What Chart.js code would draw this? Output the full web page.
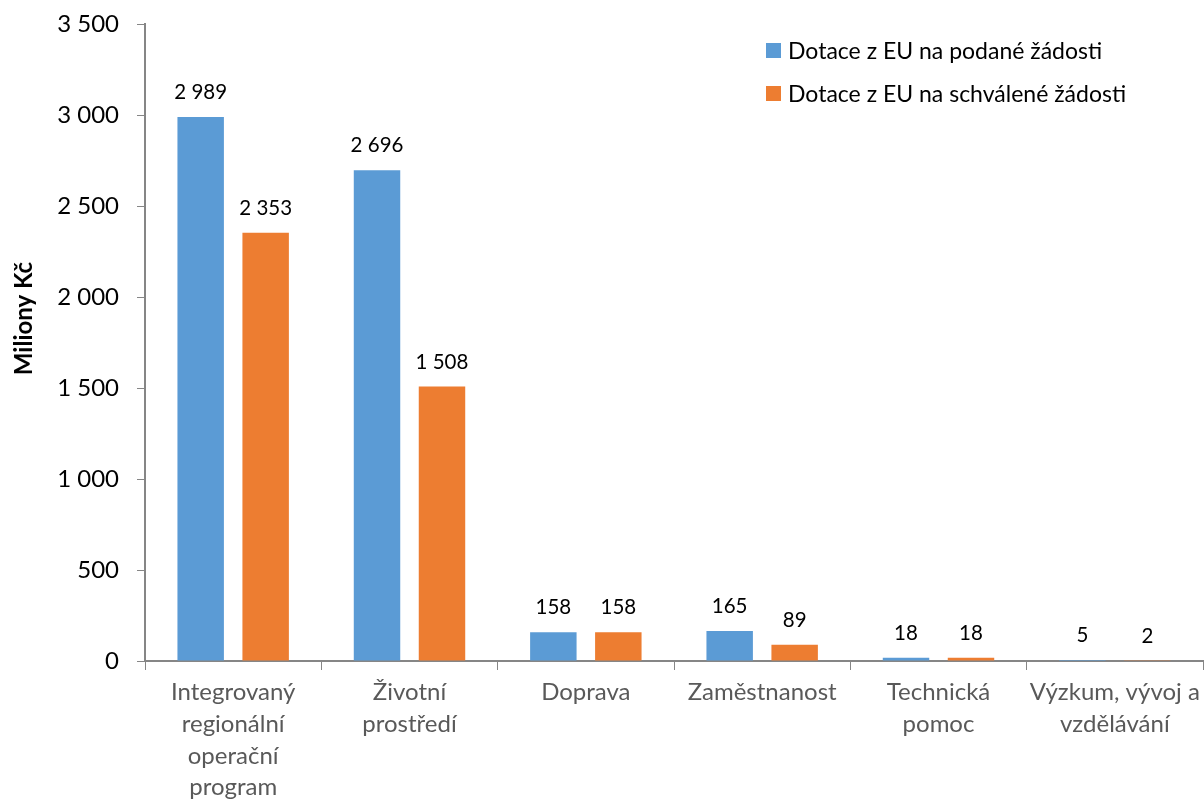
<!DOCTYPE html>
<html>
<head>
<meta charset="utf-8">
<script src="https://cdn.jsdelivr.net/npm/chart.js@4"></script>
<style>
  html, body { margin: 0; padding: 0; background: #fff; }
  #wrap { position: relative; width: 1204px; height: 805px; }
  #legend { position: absolute; left: 766px; top: 36px; font-family: Lato, sans-serif; font-size: 23px; color: #000; }
  .item { display: flex; align-items: center; height: 28px; margin-bottom: 15px; white-space: nowrap; }
  .sw { width: 15px; height: 15px; margin-right: 7px; }
</style>
</head>
<body>
<div id="wrap">
  <canvas id="c"></canvas>
  <div id="legend"></div>
</div>
<script>
const categories = [
  ["Integrovaný", "regionální", "operační", "program"],
  ["Životní", "prostředí"],
  "Doprava",
  "Zaměstnanost",
  ["Technická", "pomoc"],
  ["Výzkum, vývoj a", "vzdělávání"]
];
const seriesNames = ["Dotace z EU na podané žádosti", "Dotace z EU na schválené žádosti"];
const submitted = [2989, 2696, 158, 165, 18, 5];
const approved = [2353, 1508, 158, 89, 18, 2];
const colors = ["#5B9BD5", "#ED7D31"];
const yTicks = [0, 500, 1000, 1500, 2000, 2500, 3000, 3500];
const yTitle = "Miliony Kč";

function fmt(v) {
  return String(v).replace(/\B(?=(\d{3})+(?!\d))/g, " ");
}

const valueLabels = {
  id: "valueLabels",
  afterDatasetsDraw(chart) {
    const ctx = chart.ctx;
    ctx.save();
    ctx.font = "20.5px Lato, sans-serif";
    ctx.fillStyle = "#000";
    ctx.textAlign = "center";
    ctx.textBaseline = "alphabetic";
    chart.data.datasets.forEach((ds, i) => {
      const meta = chart.getDatasetMeta(i);
      meta.data.forEach((bar, j) => {
        ctx.fillText(fmt(ds.data[j]), bar.x, bar.y - 18);
      });
    });
    ctx.restore();
  }
};

const axisTitle = {
  id: "axisTitle",
  afterDraw(chart) {
    const ctx = chart.ctx;
    const a = chart.chartArea;
    ctx.save();
    ctx.translate(24, (a.top + a.bottom) / 2 - 24);
    ctx.rotate(-Math.PI / 2);
    ctx.font = "bold 24px Lato, sans-serif";
    ctx.fillStyle = "#000";
    ctx.textAlign = "center";
    ctx.textBaseline = "middle";
    ctx.fillText(yTitle, 0, 0);
    ctx.restore();
  }
};

const chart = new Chart(document.getElementById("c"), {
  type: "bar",
  data: {
    labels: categories,
    datasets: [
      { label: seriesNames[0], data: submitted, backgroundColor: colors[0] },
      { label: seriesNames[1], data: approved, backgroundColor: colors[1] }
    ]
  },
  options: {
    responsive: true,
    maintainAspectRatio: false,
    animation: false,
    categoryPercentage: 0.737,
    barPercentage: 0.715,
    layout: { padding: { left: 0, right: 1, top: 24, bottom: 0 } },
    plugins: {
      legend: { display: false },
      tooltip: { enabled: false }
    },
    scales: {
      x: {
        grid: { display: true, drawOnChartArea: false, drawTicks: true, tickLength: 9, color: "#868686", offset: true },
        border: { color: "#868686", width: 2 },
        ticks: { color: "#595959", font: { family: "Lato, sans-serif", size: 24, lineHeight: 1.33 }, padding: 6, maxRotation: 0, autoSkip: false },
        afterFit(scale) { scale.height = 144; scale.paddingLeft = 0; scale.paddingRight = 0; scale.paddingTop = 0; scale.paddingBottom = 0; }
      },
      y: {
        min: 0,
        max: 3500,
        afterBuildTicks(scale) { scale.ticks = yTicks.map(v => ({ value: v })); },
        grid: { display: true, drawOnChartArea: false, drawTicks: true, tickLength: 8, color: "#868686" },
        border: { color: "#868686", width: 2 },
        ticks: { color: "#000", font: { family: "Lato, sans-serif", size: 24 }, padding: 18, callback: v => fmt(v) },
        title: { display: false },
        afterFit(scale) { scale.width = 145; scale.paddingTop = 0; scale.paddingBottom = 0; scale.paddingLeft = 0; scale.paddingRight = 0; }
      }
    }
  },
  plugins: [valueLabels, axisTitle]
});

const lg = document.getElementById("legend");
seriesNames.forEach((n, i) => {
  const d = document.createElement("div");
  d.className = "item";
  const s = document.createElement("span");
  s.className = "sw";
  s.style.background = colors[i];
  const t = document.createElement("span");
  t.textContent = n;
  d.appendChild(s);
  d.appendChild(t);
  lg.appendChild(d);
});
</script>
</body>
</html>
